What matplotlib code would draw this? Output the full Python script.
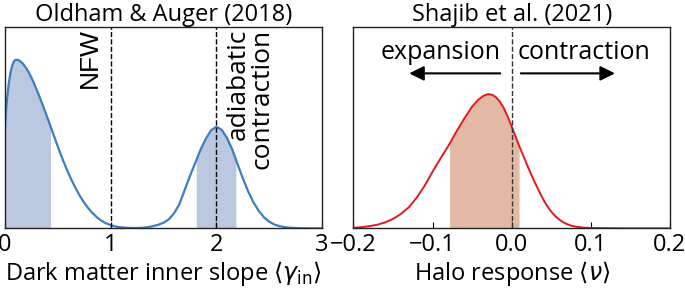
import numpy as np
import matplotlib.pyplot as plt

plt.rcParams['font.family'] = ['Open Sans', 'DejaVu Sans']
plt.rcParams['mathtext.fontset'] = 'dejavusans'

# Oldham & Auger (2018): inner slope distribution (normalised height)
gamma_x = [0.00, 0.01, 0.02, 0.03, 0.04, 0.05, 0.06, 0.07, 0.08, 0.09, 0.10,
           0.12, 0.14, 0.17, 0.20, 0.23, 0.27, 0.31, 0.35, 0.39, 0.43, 0.47,
           0.51, 0.55, 0.59, 0.63, 0.67, 0.71, 0.75, 0.79, 0.83, 0.87, 0.91,
           0.95, 1.00, 1.05, 1.10, 1.15, 1.20, 1.25, 1.30, 1.35, 1.40, 1.45,
           1.50, 1.55, 1.60, 1.65, 1.70, 1.75, 1.80, 1.85, 1.90, 1.95, 2.00,
           2.05, 2.10, 2.15, 2.20, 2.25, 2.30, 2.35, 2.40, 2.45, 2.50, 2.55,
           2.60, 2.65, 2.70, 2.80, 2.90, 3.00]
gamma_y = [0.505, 0.585, 0.645, 0.695, 0.735, 0.768, 0.793, 0.812, 0.825, 0.833, 0.837,
           0.837, 0.832, 0.818, 0.797, 0.770, 0.726, 0.676, 0.622, 0.566, 0.508, 0.450,
           0.392, 0.337, 0.286, 0.240, 0.198, 0.160, 0.127, 0.099, 0.075, 0.055, 0.039,
           0.027, 0.016, 0.009, 0.005, 0.003, 0.002, 0.002, 0.003, 0.006, 0.011, 0.018,
           0.028, 0.045, 0.075, 0.120, 0.190, 0.260, 0.325, 0.390, 0.445, 0.487, 0.505,
           0.490, 0.450, 0.393, 0.320, 0.250, 0.185, 0.130, 0.088, 0.055, 0.033, 0.019,
           0.011, 0.006, 0.003, 0.001, 0.000, 0.000]
gamma_bands = [(0.0, 0.43), (1.81, 2.185)]

# Shajib et al. (2021): halo response distribution
nu_x = [-0.200, -0.190, -0.180, -0.170, -0.160, -0.150, -0.140, -0.130, -0.120,
        -0.110, -0.100, -0.090, -0.080, -0.070, -0.060, -0.050, -0.042, -0.035,
        -0.030, -0.025, -0.020, -0.015, -0.010, -0.005, 0.000, 0.005, 0.010,
        0.015, 0.020, 0.025, 0.030, 0.035, 0.040, 0.045, 0.050, 0.055, 0.060,
        0.065, 0.070, 0.075, 0.080, 0.090, 0.100, 0.120, 0.150, 0.200]
nu_y = [0.003, 0.006, 0.011, 0.018, 0.030, 0.047, 0.072, 0.105, 0.153,
        0.212, 0.282, 0.347, 0.410, 0.480, 0.545, 0.605, 0.640, 0.660,
        0.667, 0.664, 0.652, 0.630, 0.598, 0.555, 0.505, 0.455, 0.405,
        0.358, 0.310, 0.265, 0.222, 0.182, 0.143, 0.110, 0.083, 0.061, 0.044,
        0.031, 0.021, 0.014, 0.009, 0.004, 0.002, 0.001, 0.000, 0.000]
nu_band = (-0.0785, 0.0093)

fs = 17


def band(ax, x, y, lo, hi, color):
    x = np.asarray(x)
    y = np.asarray(y)
    inside = (x > lo) & (x < hi)
    xs = np.concatenate([[lo], x[inside], [hi]])
    ys = np.concatenate([[np.interp(lo, x, y)], y[inside], [np.interp(hi, x, y)]])
    ax.fill_between(xs, 0, ys, color=color, lw=0)


def style(ax):
    ax.set_ylim(0, 1)
    ax.set_yticks([])
    ax.tick_params(axis='x', direction='in', length=4, labelsize=fs, pad=3)
    for s in ax.spines.values():
        s.set_linewidth(1.0)
        s.set_color('#222222')


fig = plt.figure(figsize=(6.85, 2.88), dpi=100)
ax1 = fig.add_axes([0.0073, 0.207, 0.4628, 0.699])
ax2 = fig.add_axes([0.516, 0.207, 0.462, 0.699])

# left panel
for lo, hi in gamma_bands:
    band(ax1, gamma_x, gamma_y, lo, hi, '#bcc7e0')
ax1.plot(gamma_x, gamma_y, color='#3b7fc0', lw=1.6)
ax1.axvline(1, color='k', ls='--', lw=1)
ax1.axvline(2, color='k', ls='--', lw=1)
ax1.set_xlim(0, 3)
ax1.set_xticks([0, 1, 2, 3])
style(ax1)
ax1.set_title('Oldham & Auger (2018)', fontsize=fs, pad=2)
ax1.set_xlabel(r'Dark matter inner slope $\langle\gamma_{\mathrm{in}}\rangle$',
               fontsize=fs, labelpad=2)
ax1.text(0.92, 0.995, 'NFW', rotation=90, ha='right', va='top',
         fontsize=19, family=['Liberation Sans', 'DejaVu Sans'])
ax1.text(2.09, 0.99, 'adiabatic\ncontraction', rotation=90, ha='left', va='top',
         multialignment='right', fontsize=19, linespacing=0.95)

# right panel
band(ax2, nu_x, nu_y, nu_band[0], nu_band[1], '#e3b9a6')
ax2.plot(nu_x, nu_y, color='#e31a1c', lw=1.4)
ax2.axvline(0, color='#333333', ls='--', lw=1)
ax2.set_xlim(-0.2, 0.2)
ax2.set_xticks([-0.2, -0.1, 0.0, 0.1, 0.2])
ax2.set_xticklabels(['\u22120.2', '\u22120.1', '0.0', '0.1', '0.2'])
style(ax2)
ax2.set_title('Shajib et al. (2021)', fontsize=fs, pad=2)
ax2.set_xlabel(r'Halo response $\langle\nu\rangle$', fontsize=fs, labelpad=2)
ax2.text(-0.09, 0.875, 'expansion', ha='center', va='center', fontsize=18)
ax2.text(0.092, 0.875, 'contraction', ha='center', va='center', fontsize=18)
ax2.annotate('', xy=(-0.133, 0.77), xytext=(-0.011, 0.77),
             arrowprops=dict(arrowstyle='-|>', color='k', lw=1.5, mutation_scale=22))
ax2.annotate('', xy=(0.134, 0.77), xytext=(0.008, 0.77),
             arrowprops=dict(arrowstyle='-|>', color='k', lw=1.5, mutation_scale=22))

fig.savefig('out.png', dpi=100)
